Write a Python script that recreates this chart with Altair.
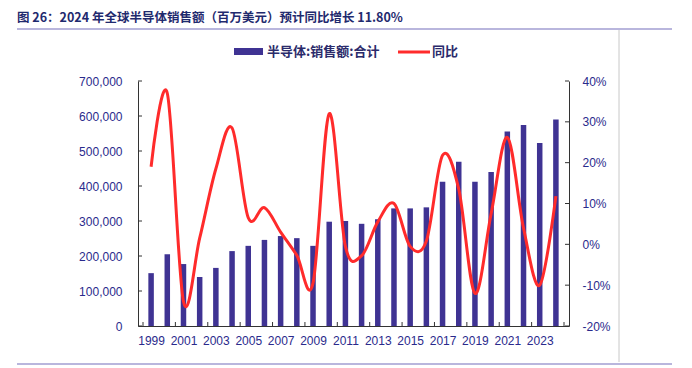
import altair as alt
import pandas as pd

years = list(range(1999, 2025))
sales = [151000, 205000, 177000, 140000, 166000, 214000, 229000, 246000, 257000,
         251000, 229000, 298000, 300000, 292000, 305000, 336000, 336000, 339000,
         412000, 469000, 412000, 440000, 556000, 574000, 523000, 590000]
yoy = [19.0, 37.0, -14.0, 1.5, 18.5, 28.5, 6.5, 9.0, 3.0, -2.7, -9.5, 32.0, -0.5,
       -2.8, 5.5, 10.0, -0.5, 0.8, 21.8, 13.5, -12.0, 7.5, 26.2, 4.0, -10.0, 11.8]
left_ticks = [0, 100000, 200000, 300000, 400000, 500000, 600000, 700000]
right_ticks = [-20, -10, 0, 10, 20, 30, 40]
x_labels = list(range(1999, 2024, 2))
x_tick_pos = [1998.5 + 2 * i for i in range(14)]

title_text = "图 26：2024 年全球半导体销售额（百万美元）预计同比增长 11.80%"
legend_bar = "半导体:销售额:合计"
legend_line = "同比"

W, H = 431, 245
BAR = "#3f3393"
RED = "#ff2b2b"
AX = "#333333"
LBL = "#2a2a8c"
NUM_FONT = "Liberation Sans"
CJK = "Noto Sans CJK SC"

df = pd.DataFrame({"year": years, "sales": sales, "yoy": yoy})
one = pd.DataFrame({"a": [0]})

xs = alt.Scale(domain=[1998.5, 2024.5], nice=False, zero=False)
yl = alt.Scale(domain=[0, 700000], nice=False)
yr = alt.Scale(domain=[-20, 40], nice=False, zero=False)

common_axis = dict(grid=False, title=None, tickSize=0, domainColor=AX, domainWidth=1,
                   labelColor=LBL, labelFont=NUM_FONT, labelFontSize=12)

x_axis = alt.Axis(values=x_labels, format="d", labelPadding=9, **common_axis)
yl_axis = alt.Axis(orient="left", values=left_ticks, format=",d", labelPadding=16, **common_axis)
yr_axis = alt.Axis(orient="right", values=right_ticks, labelExpr="datum.value + '%'",
                   labelPadding=13, **common_axis)

bars = alt.Chart(df).mark_bar(size=5.5, color=BAR).encode(
    x=alt.X("year:Q", scale=xs, axis=x_axis),
    y=alt.Y("sales:Q", scale=yl, axis=yl_axis),
)

lt = alt.Chart(pd.DataFrame({"sales": left_ticks})).mark_rule(color=AX, strokeWidth=1).encode(
    y=alt.Y("sales:Q", scale=yl, axis=yl_axis), x=alt.value(0), x2=alt.value(4))

xt = alt.Chart(pd.DataFrame({"year": x_tick_pos})).mark_rule(color=AX, strokeWidth=1).encode(
    x=alt.X("year:Q", scale=xs, axis=x_axis), y=alt.value(H), y2=alt.value(H - 4))

title = alt.Chart(one).mark_text(text=title_text, font=CJK, fontSize=12.5, fontWeight="bold",
                                 color="#1f2a6e", align="left", baseline="middle").encode(
    x=alt.value(-121), y=alt.value(-63))

top_line = alt.Chart(one).mark_rule(color="#a29ed2", strokeWidth=1.5).encode(
    x=alt.value(-121), x2=alt.value(534), y=alt.value(-52))
bot_line = alt.Chart(one).mark_rule(color="#a29ed2", strokeWidth=1.5).encode(
    x=alt.value(-121), x2=alt.value(534), y=alt.value(283))
vline = alt.Chart(one).mark_rule(color="#c8c8c8", strokeWidth=1).encode(
    x=alt.value(481), y=alt.value(-51), y2=alt.value(281))

leg_rect = alt.Chart(one).mark_rect(color=BAR).encode(
    x=alt.value(96), x2=alt.value(125), y=alt.value(-33), y2=alt.value(-26))
leg_t1 = alt.Chart(one).mark_text(text=legend_bar, font=CJK, fontSize=13, fontWeight="bold",
                                  color="#2b2b6b", align="left", baseline="middle").encode(
    x=alt.value(129), y=alt.value(-29.5))
leg_line = alt.Chart(one).mark_rule(color=RED, strokeWidth=3).encode(
    x=alt.value(260), x2=alt.value(292), y=alt.value(-29))
leg_t2 = alt.Chart(one).mark_text(text=legend_line, font=CJK, fontSize=13, fontWeight="bold",
                                  color="#2b2b6b", align="left", baseline="middle").encode(
    x=alt.value(294), y=alt.value(-29.5))

left = alt.layer(bars, lt, xt, title, top_line, bot_line, vline,
                 leg_rect, leg_t1, leg_line, leg_t2)

line = alt.Chart(df).mark_line(color=RED, strokeWidth=3, interpolate="cardinal").encode(
    x=alt.X("year:Q", scale=xs, axis=x_axis),
    y=alt.Y("yoy:Q", scale=yr, axis=yr_axis),
)
rt = alt.Chart(pd.DataFrame({"yoy": right_ticks})).mark_rule(color=AX, strokeWidth=1).encode(
    y=alt.Y("yoy:Q", scale=yr, axis=yr_axis), x=alt.value(W), x2=alt.value(W - 4))

right = alt.layer(line, rt)

chart = alt.layer(left, right).resolve_scale(y="independent").properties(
    width=W, height=H,
    padding={"left": 130, "top": 73, "right": 115, "bottom": 42},
    autosize=alt.AutoSizeParams(type="none"),
).configure_view(stroke=None)

chart.save("out.html", embed_options={"renderer": "svg", "actions": False})
